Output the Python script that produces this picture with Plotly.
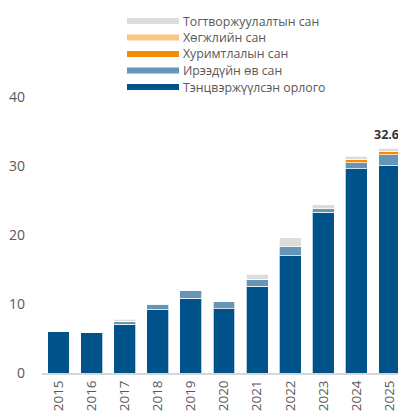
import plotly.graph_objects as go

years = ["2015", "2016", "2017", "2018", "2019", "2020", "2021", "2022", "2023", "2024", "2025"]

# bottom to top of each stack
balanced_income = [6.0, 5.8, 7.1, 9.2, 10.8, 9.3, 12.6, 17.0, 23.3, 29.6, 30.05]
future_heritage = [0.0, 0.0, 0.4, 0.7, 1.1, 1.0, 1.0, 1.3, 0.5, 0.87, 1.55]
savings_fund = [0.0, 0.0, 0.0, 0.0, 0.0, 0.0, 0.0, 0.0, 0.0, 0.45, 0.45]
development_fund = [0.0, 0.0, 0.0, 0.0, 0.0, 0.0, 0.0, 0.0, 0.0, 0.05, 0.05]
stabilization_fund = [0.0, 0.0, 0.3, 0.1, 0.0, 0.0, 0.7, 1.3, 0.6, 0.45, 0.5]

series = [
    ("Тэнцвэржүүлсэн орлого", balanced_income, "#00538a"),
    ("Ирээдүйн өв сан", future_heritage, "#6596b8"),
    ("Хуримтлалын сан", savings_fund, "#f58a07"),
    ("Хөгжлийн сан", development_fund, "#fdc583"),
    ("Тогтворжуулалтын сан", stabilization_fund, "#dcdcdc"),
]

FONT = "Open Sans, sans-serif"
TEXT_GREY = "#595959"

# the page body adds an 8px margin, so the figure is a bit smaller than the window
OFF = 8
W, H = 406 - OFF, 419 - OFF
L, R, T, B = 34, 0, 89, 46
PW, PH = W - L - R, H - T - B


def px_x(x):
    # window pixel -> paper x
    return (x - OFF - L) / PW


def px_y(y):
    # window pixel -> paper y
    return (OFF + H - B - y) / PH


fig = go.Figure()
for name, vals, color in series:
    fig.add_trace(go.Bar(
        x=years, y=vals, name=name,
        marker=dict(color=color, line=dict(color="rgba(255,255,255,0.7)", width=1)),
        showlegend=False,
    ))

# hand-drawn legend with wide swatches, top entry first
shapes = []
annotations = []
row_y = [21, 37.5, 54, 70.5, 87]
for (name, vals, color), yy in zip(reversed(series), row_y):
    shapes.append(dict(
        type="rect", xref="paper", yref="paper",
        x0=px_x(127), x1=px_x(179), y0=px_y(yy + 3), y1=px_y(yy - 3),
        fillcolor=color, line=dict(width=0),
    ))
    annotations.append(dict(
        xref="paper", yref="paper", x=px_x(181), y=px_y(yy),
        xanchor="left", yanchor="middle", showarrow=False, text=name,
        font=dict(family=FONT, size=12.3, color=TEXT_GREY),
    ))

total_last = sum(s[1][-1] for s in series)
annotations.append(dict(
    x=len(years) - 1, y=total_last, xref="x", yref="y",
    text=f"<b>{total_last:.1f}</b>", showarrow=False,
    yanchor="bottom", yshift=3, xshift=-3,
    font=dict(family=FONT, size=12.5, color="#333333"),
))

fig.update_layout(
    barmode="stack",
    bargap=0.34,
    width=W, height=H,
    margin=dict(l=L, r=R, t=T, b=B, pad=0),
    plot_bgcolor="white",
    paper_bgcolor="white",
    font=dict(family=FONT, size=14, color=TEXT_GREY),
    shapes=shapes,
    annotations=annotations,
)
fig.update_xaxes(
    type="category", tickangle=-90, showgrid=False,
    showline=True, linecolor="#d6d6d6", linewidth=2,
    ticks="",
    tickfont=dict(family=FONT, size=13.5, color=TEXT_GREY),
)
fig.update_yaxes(
    range=[0, 40], tickvals=[0, 10, 20, 30, 40], showgrid=False,
    zeroline=False, showline=False, ticks="", ticklabelstandoff=16,
    tickfont=dict(family=FONT, size=14, color=TEXT_GREY),
)

fig.write_html("out.html")
